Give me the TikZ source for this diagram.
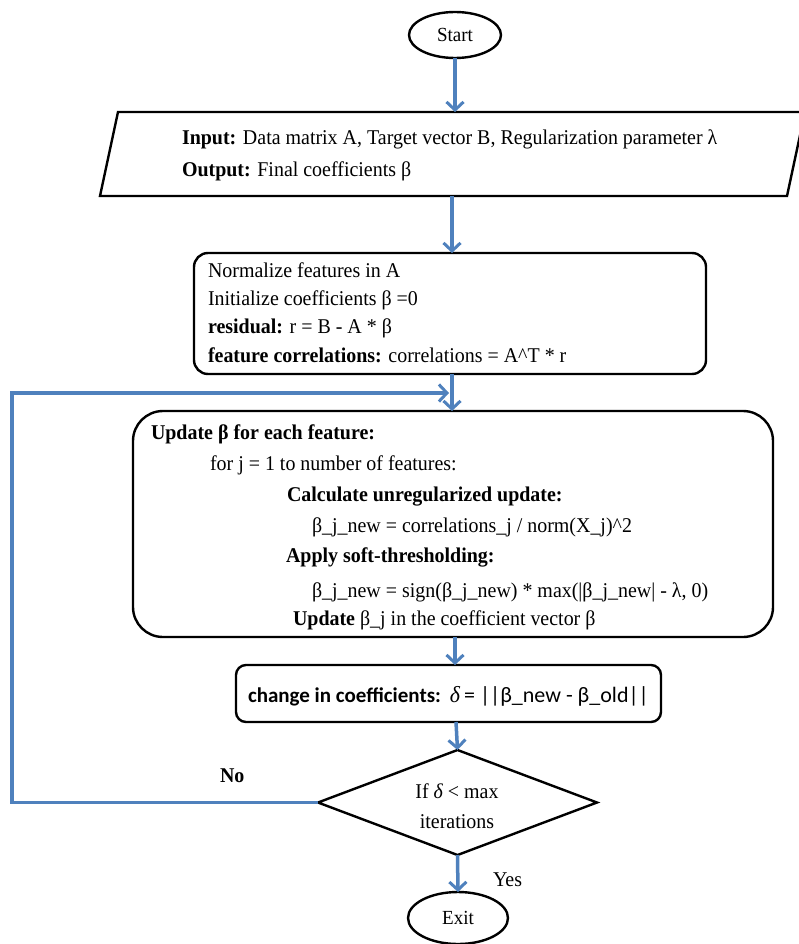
\documentclass[tikz,border=0pt]{standalone}
\usepackage{fontspec}
\setmainfont{Liberation Serif}[FakeStretch=0.95]
\newfontfamily\calfont{Carlito}
\usetikzlibrary{arrows.meta,shapes.geometric}
\definecolor{flowblue}{RGB}{79,129,189}
\tikzset{
  every node/.style={inner sep=0pt, outer sep=0pt},
  boxline/.style={draw=black, line width=2.4pt},
  flow/.style={draw=flowblue, line width=3.5pt,
    -{Straight Barb[length=8pt,width=17pt,line width=3pt]}},
  txt/.style={anchor=base west, font=\fontsize{21}{24}\selectfont},
  ctxt/.style={anchor=base, font=\fontsize{21}{24}\selectfont},
}
\begin{document}
\begin{tikzpicture}[x=1pt,y=-1pt]
\useasboundingbox (0,0) rectangle (798,944);

% terminals
\node[boxline, ellipse, minimum width=92pt, minimum height=46pt,
      font=\fontsize{20}{24}\selectfont] (start) at (455,35) {Start};
\node[boxline, ellipse, minimum width=100pt, minimum height=52pt,
      font=\fontsize{20}{24}\selectfont] (exit) at (458,918) {Exit};

% input / output parallelogram
\draw[boxline] (118,112) -- (805,112) -- (787,196) -- (100,196) -- cycle;
\coordinate (io-top) at (455,112);
\coordinate (io-bot) at (452,196);
\node[txt] (io1) at (182,145) {\textbf{Input:}  Data matrix  A, Target vector B, Regularization  parameter  λ};
\node[txt] (io2) at (182,177) {\textbf{Output:}  Final  coefficients  β};

% initialisation block
\node[boxline, rounded corners=14pt, minimum width=512pt, minimum height=121pt]
  (init) at (450,313.5) {};
\node[txt] (in1) at (208,277) {Normalize  features  in  A};
\node[txt] (in2) at (208,305) {Initialize  coefficients  β =0};
\node[txt] (in3) at (208,333) {\textbf{residual:} r = B - A * β};
\node[txt] (in4) at (208,362) {\textbf{feature correlations:}  correlations  = A\textasciicircum T * r};

% coordinate-descent update block
\node[boxline, rounded corners=30pt, minimum width=640pt, minimum height=226pt]
  (upd) at (453,524) {};
\node[txt] (up1) at (151,439) {\textbf{Update  β for each feature:}};
\node[txt] (up2) at (210,470) {for j = 1 to number  of features:};
\node[txt] (up3) at (287,501) {\textbf{Calculate  unregularized  update:}};
\node[txt] (up4) at (312,532) {β\_j\_new = correlations\_j  / norm(X\_j)\textasciicircum 2};
\node[txt] (up5) at (286,562) {\textbf{Apply  soft-thresholding:}};
\node[txt] (up6) at (312,597) {β\_j\_new = sign(β\_j\_new)  * max(|β\_j\_new|  - λ, 0)};
\node[txt] (up7) at (293,625) {\textbf{Update} β\_j in the coefficient  vector  β};

% convergence measure
\node[boxline, rounded corners=10pt, minimum width=425pt, minimum height=57pt]
  (chg) at (448.5,693.5) {};
\node[anchor=base west] (chgtxt) at (248,702)
  {{\fontsize{21}{24}\calfont\bfseries change in coefficients:}\hspace{9pt}%
   {\fontsize{23}{24}\selectfont\itshape δ}\hspace{4pt}%
   {\fontsize{22}{24}\calfont = ||β\_new - β\_old||}};

% decision
\node[boxline, diamond, minimum width=279pt, minimum height=105pt]
  (dec) at (457.5,802.5) {};
\node[ctxt] (dec1) at (457,798) {If {\itshape δ} < max};
\node[ctxt] (dec2) at (457,828) {iterations};

% connectors
\draw[flow] (start.south -| io-top) -- (io-top);
\draw[flow] (io-bot) -- (io-bot |- init.north);
\draw[flow] (io-bot |- init.south) -- (io-bot |- upd.north);
\coordinate (loop-low) at (12,802.5);
\coordinate (loop-high) at (12,393);
\coordinate (loop-end) at (449,393);
\draw[flow] (dec.west) -- (loop-low) -- (loop-high) -- (loop-end);
\draw[flow] (455,0 |- upd.south) -- (455,0 |- chg.north);
\draw[flow] (456,0 |- chg.south) -- (dec.north);
\draw[flow] (dec.south) -- (exit.north);

% branch labels
\node[txt, font=\fontsize{21}{24}\selectfont\bfseries] (nolbl) at (220,782) {No};
\node[txt] (yeslbl) at (493,886) {Yes};
\end{tikzpicture}
\end{document}
